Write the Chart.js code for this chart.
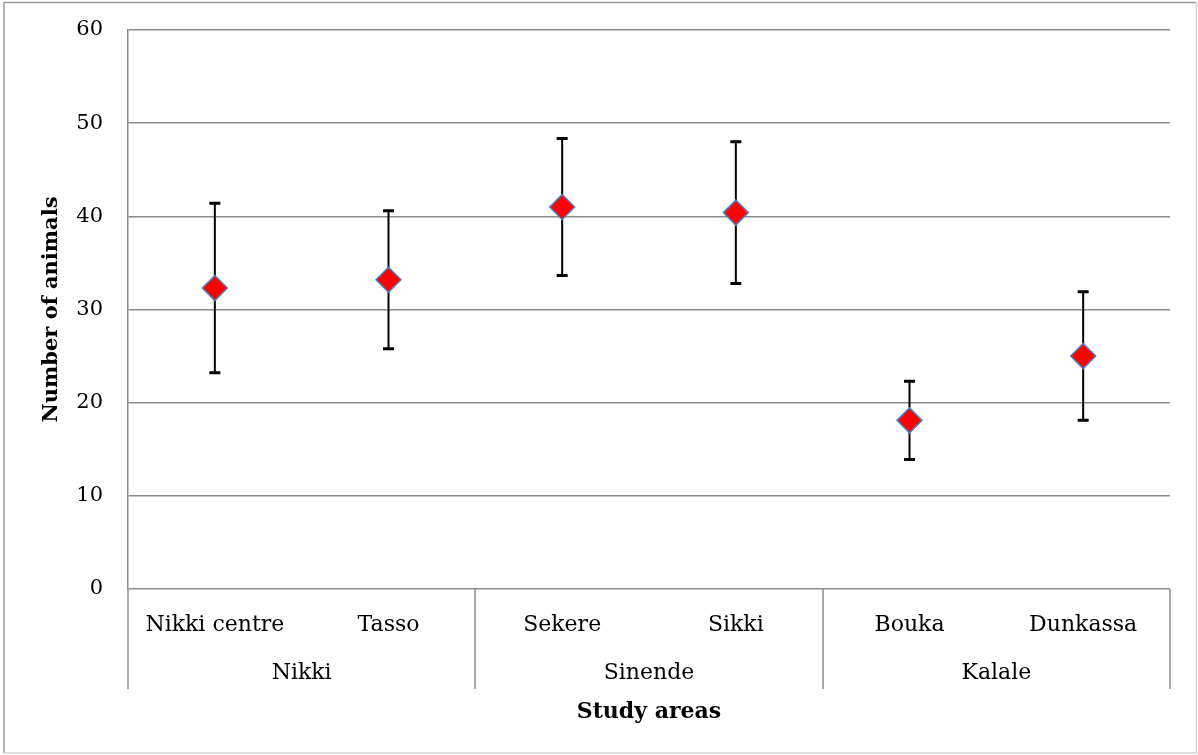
<!DOCTYPE html>
<html>
<head>
<meta charset="utf-8">
<script src="https://cdn.jsdelivr.net/npm/chart.js@4/dist/chart.umd.min.js"></script>
<style>
  html, body { margin: 0; padding: 0; background: #ffffff; }
  #wrap { width: 1198px; height: 755px; position: relative; }
</style>
</head>
<body>
<div id="wrap"><canvas id="c" width="1198" height="755"></canvas></div>
<script>
// ---- data ----
const categories = ['Nikki centre', 'Tasso', 'Sekere', 'Sikki', 'Bouka', 'Dunkassa'];
const groups = ['Nikki', 'Sinende', 'Kalale'];
const groupSizes = [2, 2, 2];
const meanValues = [32.3, 33.2, 41.0, 40.4, 18.1, 25.0];
const errorValues = [9.1, 7.4, 7.35, 7.6, 4.2, 6.9];
const yTicks = [0, 10, 20, 30, 40, 50, 60];
const yTitle = 'Number of animals';
const xTitle = 'Study areas';

const FONT = "'DejaVu Serif', 'Liberation Serif', serif";
const GRID = '#8c8c8c';

const borderPlugin = {
  id: 'outerBorder',
  beforeDraw(chart) {
    const ctx = chart.ctx;
    ctx.save();
    ctx.fillStyle = '#ffffff';
    ctx.fillRect(0, 0, chart.width, chart.height);
    ctx.lineWidth = 1.5;
    ctx.strokeStyle = '#9a9a9a';
    ctx.beginPath();
    ctx.moveTo(4, 753); ctx.lineTo(4, 2.5); ctx.lineTo(1196, 2.5);
    ctx.stroke();
    ctx.strokeStyle = '#d4d4d4';
    ctx.beginPath();
    ctx.moveTo(1196.5, 2.5); ctx.lineTo(1196.5, 753); ctx.lineTo(4, 753);
    ctx.stroke();
    ctx.restore();
  }
};

const errorBarPlugin = {
  id: 'errorBars',
  beforeDatasetsDraw(chart) {
    const ctx = chart.ctx;
    const xs = chart.scales.x, ys = chart.scales.y;
    ctx.save();
    ctx.strokeStyle = '#000000';
    meanValues.forEach((m, i) => {
      const x = xs.getPixelForValue(i);
      const yTop = ys.getPixelForValue(m + errorValues[i]);
      const yBot = ys.getPixelForValue(m - errorValues[i]);
      ctx.lineWidth = 2;
      ctx.beginPath();
      ctx.moveTo(x, yTop); ctx.lineTo(x, yBot);
      ctx.stroke();
      ctx.lineWidth = 3;
      ctx.beginPath();
      ctx.moveTo(x - 5.5, yTop); ctx.lineTo(x + 5.5, yTop);
      ctx.moveTo(x - 5.5, yBot); ctx.lineTo(x + 5.5, yBot);
      ctx.stroke();
    });
    ctx.restore();
  }
};

const groupPlugin = {
  id: 'groupLabels',
  afterDraw(chart) {
    const ctx = chart.ctx;
    const xs = chart.scales.x;
    const top = chart.chartArea.bottom;
    const bottom = top + 100;
    const step = xs.getPixelForValue(1) - xs.getPixelForValue(0);
    ctx.save();
    ctx.strokeStyle = GRID;
    ctx.lineWidth = 1.5;
    let idx = 0;
    const bounds = [xs.left];
    groupSizes.forEach(n => {
      idx += n;
      bounds.push(xs.getPixelForValue(idx - 1) + step / 2);
    });
    bounds.forEach(b => {
      ctx.beginPath();
      ctx.moveTo(Math.round(b), top); ctx.lineTo(Math.round(b), bottom);
      ctx.stroke();
    });
    ctx.fillStyle = '#000000';
    ctx.font = '22px ' + FONT;
    ctx.textAlign = 'center';
    ctx.textBaseline = 'middle';
    groups.forEach((g, k) => {
      ctx.fillText(g, (bounds[k] + bounds[k + 1]) / 2, top + 84);
    });
    ctx.restore();
  }
};

new Chart(document.getElementById('c'), {
  type: 'line',
  data: {
    labels: categories,
    datasets: [{
      data: meanValues,
      showLine: false,
      pointStyle: 'rectRot',
      pointRadius: 12.5,
      pointHoverRadius: 12.5,
      pointBackgroundColor: '#ff0000',
      pointBorderColor: '#4f81bd',
      pointBorderWidth: 1.5
    }]
  },
  options: {
    responsive: false,
    animation: false,
    events: [],
    layout: { autoPadding: false, padding: { left: 0, top: 30, right: 28, bottom: 0 } },
    plugins: { legend: { display: false }, tooltip: { enabled: false } },
    scales: {
      x: {
        type: 'category',
        offset: true,
        grid: { display: false, drawTicks: false },
        border: { display: false },
        ticks: { color: '#000000', font: { family: FONT, size: 22 }, padding: 23, maxRotation: 0, autoSkip: false },
        title: { display: true, text: xTitle, color: '#000000', font: { family: FONT, size: 22, weight: 'bold' }, padding: { top: 0, bottom: 30 } },
        afterFit(scale) { scale.height = 166; scale.paddingLeft = 0; scale.paddingRight = 0; }
      },
      y: {
        min: 0, max: 60,
        afterBuildTicks(scale) { scale.ticks = yTicks.map(v => ({ value: v })); },
        grid: { color: GRID, lineWidth: 1.5, drawTicks: false },
        border: { display: true, color: GRID, width: 1.5 },
        ticks: { color: '#000000', font: { family: FONT, size: 21 }, padding: 25 },
        title: { display: true, text: yTitle, color: '#000000', font: { family: FONT, size: 21, weight: 'bold' }, padding: { top: 39, bottom: 0 } },
        afterFit(scale) { scale.width = 128; scale.paddingTop = 12; scale.paddingBottom = 12; }
      }
    }
  },
  plugins: [borderPlugin, errorBarPlugin, groupPlugin]
});
</script>
</body>
</html>
